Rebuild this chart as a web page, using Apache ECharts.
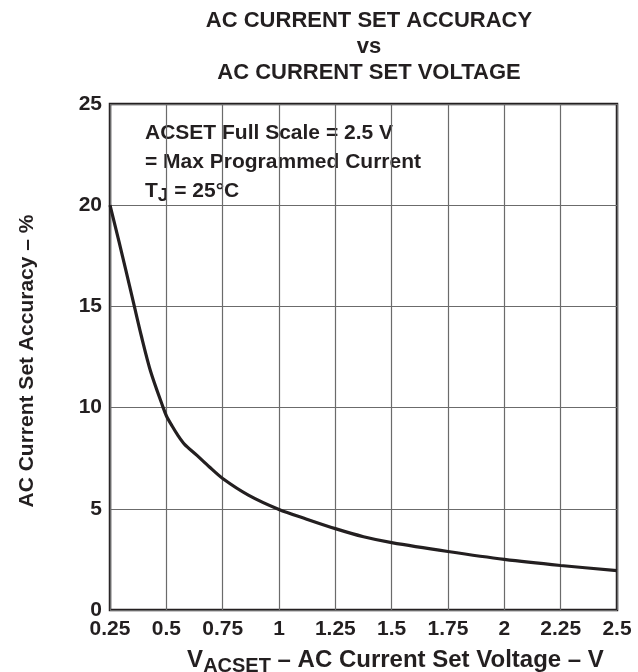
<!DOCTYPE html>
<html>
<head>
<meta charset="utf-8">
<script src="https://cdn.jsdelivr.net/npm/echarts@6/dist/echarts.min.js"></script>
<style>
  html, body { margin: 0; padding: 0; background: #fff; }
  #chart { width: 638px; height: 672px; }
</style>
</head>
<body>
<div id="chart"></div>
<script>
// ---- data ----
const voltage = [0.25, 0.29, 0.32, 0.354, 0.39, 0.43, 0.486, 0.5, 0.525, 0.55, 0.58, 0.636, 0.69, 0.75, 0.864, 1.0, 1.12, 1.25, 1.375, 1.5, 1.75, 2.0, 2.25, 2.5];
const accuracy = [20.0, 18.2, 16.8, 15.2, 13.5, 11.8, 10.0, 9.6, 9.1, 8.65, 8.2, 7.64, 7.08, 6.5, 5.68, 4.97, 4.5, 4.02, 3.62, 3.33, 2.89, 2.5, 2.2, 1.95];
const xTickValues = [0.25, 0.5, 0.75, 1, 1.25, 1.5, 1.75, 2, 2.25, 2.5];
const xTickLabels = ['0.25', '0.5', '0.75', '1', '1.25', '1.5', '1.75', '2', '2.25', '2.5'];
const yTickValues = [0, 5, 10, 15, 20, 25];
const yTickLabels = ['0', '5', '10', '15', '20', '25'];
const titleLines = ['AC CURRENT SET ACCURACY', 'vs', 'AC CURRENT SET VOLTAGE'];
const noteLines = ['ACSET Full Scale = 2.5 V', '= Max Programmed Current'];

const FONT = "'Liberation Sans', Arial, Helvetica, sans-serif";
const INK = '#231f20';

const chart = echarts.init(document.getElementById('chart'), null, { renderer: 'canvas' });

function tickLabel(values, labels) {
  return function (v) {
    for (let i = 0; i < values.length; i++) {
      if (Math.abs(values[i] - v) < 1e-6) return labels[i];
    }
    return '';
  };
}

const option = {
  backgroundColor: '#ffffff',
  animation: false,
  title: {
    text: titleLines.join('\n'),
    left: 364,
    top: 3,
    textAlign: 'center',
    textStyle: { fontFamily: FONT, fontSize: 22, fontWeight: 'bold', color: INK, lineHeight: 26 }
  },
  grid: {
    left: 110, right: 21, top: 104, bottom: 62,
    containLabel: false,
    outerBoundsMode: 'none',
    show: true, borderColor: INK, borderWidth: 2.5, backgroundColor: 'transparent'
  },
  xAxis: {
    type: 'value',
    min: 0.25, max: 2.5, interval: 0.25,
    axisLine: { show: false },
    axisTick: { show: false },
    splitLine: { show: true, lineStyle: { color: '#6b6b6b', width: 1.2 } },
    axisLabel: {
      margin: 9,
      fontFamily: FONT, fontSize: 21, fontWeight: 'bold', color: INK,
      formatter: tickLabel(xTickValues, xTickLabels)
    },
    name: '{v|V}{s|ACSET}{v| – AC Current Set Voltage – V}',
    nameLocation: 'middle',
    nameGap: 35,
    nameMoveOverlap: false,
    nameTextStyle: {
      padding: [0, 0, 0, 64],
      rich: {
        v: { fontFamily: FONT, fontSize: 24, fontWeight: 'bold', color: INK },
        s: { fontFamily: FONT, fontSize: 20, fontWeight: 'bold', color: INK, padding: [11, 0, 0, 0] }
      }
    }
  },
  yAxis: {
    type: 'value',
    min: 0, max: 25, interval: 5,
    axisLine: { show: false },
    axisTick: { show: false },
    splitLine: { show: true, lineStyle: { color: '#6b6b6b', width: 1.2 } },
    axisLabel: {
      margin: 8,
      fontFamily: FONT, fontSize: 21, fontWeight: 'bold', color: INK,
      formatter: tickLabel(yTickValues, yTickLabels)
    },
    name: 'AC Current Set Accuracy – %',
    nameLocation: 'middle',
    nameGap: 72,
    nameMoveOverlap: false,
    nameTextStyle: { fontFamily: FONT, fontSize: 21, fontWeight: 'bold', color: INK, padding: [0, 8, 0, 0] }
  },
  graphic: [
    {
      type: 'group',
      z: 5,
      children: [
        { type: 'rect', shape: { x: 131, y: 113, width: 313, height: 99 }, style: { fill: '#ffffff' } },
        { type: 'text', x: 145, y: 133, style: { text: noteLines[0], font: "bold 21px " + FONT, fill: INK, verticalAlign: 'middle' } },
        { type: 'text', x: 145, y: 162, style: { text: noteLines[1], font: "bold 21px " + FONT, fill: INK, verticalAlign: 'middle' } },
        { type: 'text', x: 145, y: 191, style: {
            text: '{a|T}{s|J}{a| = 25°C}', verticalAlign: 'middle',
            rich: {
              a: { fontFamily: FONT, fontSize: 21, fontWeight: 'bold', fill: INK, color: INK },
              s: { fontFamily: FONT, fontSize: 19, fontWeight: 'bold', fill: INK, color: INK, padding: [10, 0, 0, 0] }
            }
          } }
      ]
    }
  ],
  series: [
    {
      type: 'line',
      z: 10,
      data: voltage.map((v, i) => [v, accuracy[i]]),
      smooth: 0.3,
      showSymbol: false,
      symbol: 'none',
      lineStyle: { color: INK, width: 3.2 }
    }
  ]
};

chart.setOption(option);
</script>
</body>
</html>
